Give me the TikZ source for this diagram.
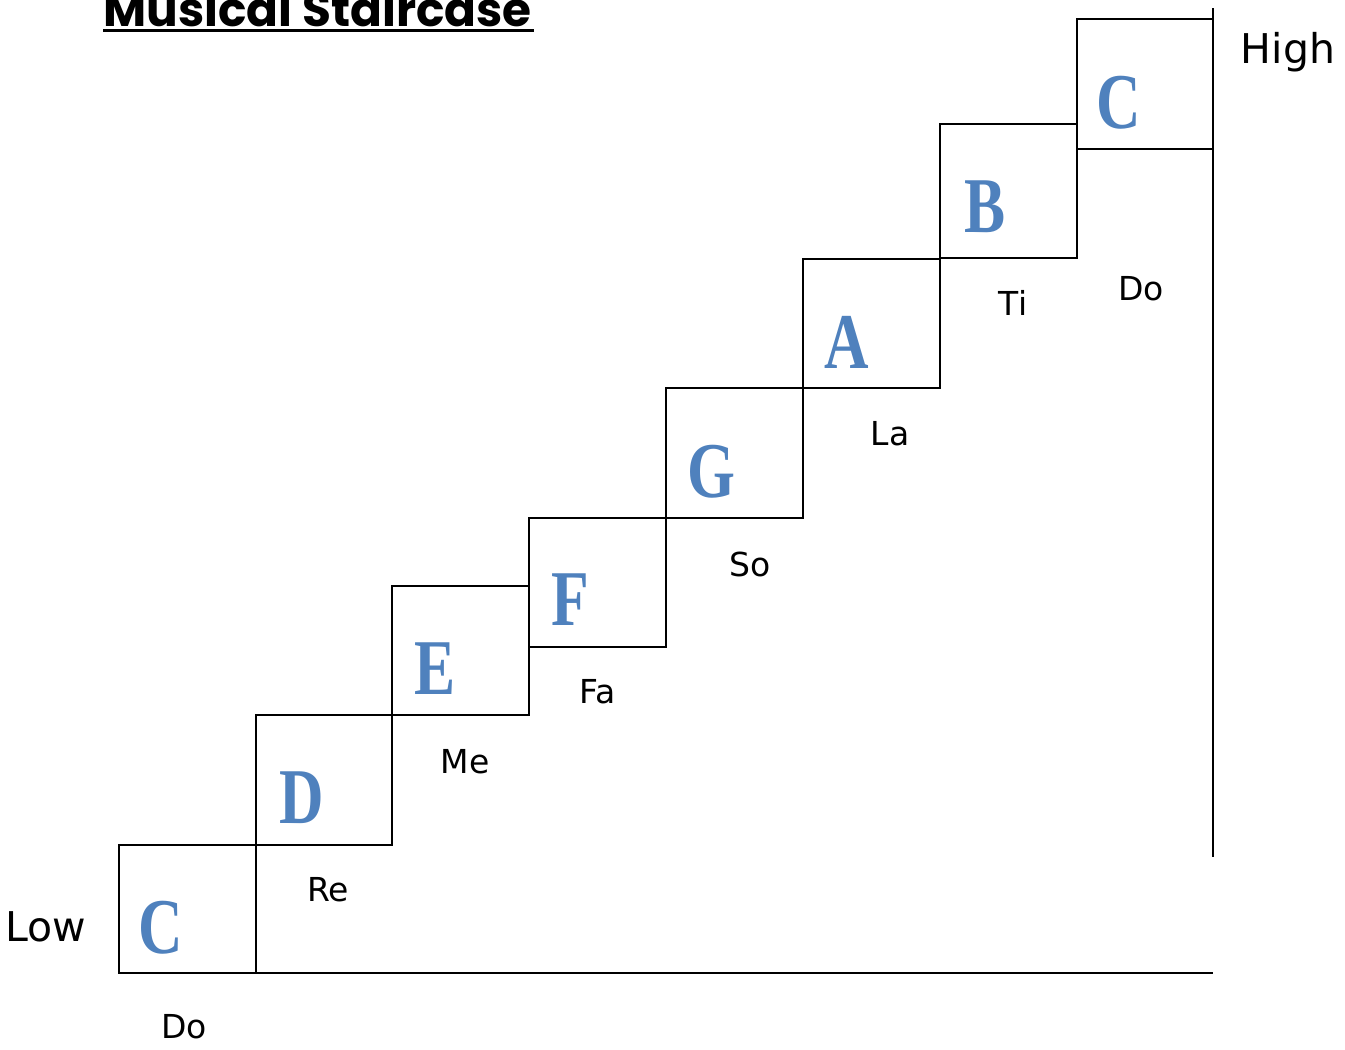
\documentclass[tikz,border=0pt]{standalone}
\usepackage{fontspec}
\setmainfont{DejaVu Sans}
\newfontfamily\titlefont{Poppins}[BoldFont={* Bold}]
\newfontfamily\notefont{Liberation Serif}[FakeStretch=0.78]
\definecolor{noteblue}{HTML}{4F81BD}
\begin{document}
\begin{tikzpicture}[x=1pt,y=-1pt,
  stepbox/.style={draw=black,line width=2pt,inner sep=0pt,outer sep=0pt,fill=none},
  note/.style={inner sep=0pt,font=\notefont\bfseries\fontsize{79}{79}\selectfont,text=noteblue},
  syll/.style={inner sep=0pt,font=\fontsize{33}{33}\selectfont},
  side/.style={inner sep=0pt,font=\fontsize{41}{41}\selectfont},
  axis/.style={line width=2pt}]
\useasboundingbox (0,0) rectangle (1345,1050);
% title
\node[inner sep=0pt,anchor=base west,font=\titlefont\bfseries\fontsize{47}{47}\selectfont] (title) at (103,26) {Musical Staircase};
\draw[line width=3.5pt] (103,30.5) -- (534,30.5);
% boxes
\node[stepbox,minimum width=137pt,minimum height=128pt] (b1) at (187.5,909) {};
\node[stepbox,minimum width=136pt,minimum height=130pt] (b2) at (324,780) {};
\node[stepbox,minimum width=137pt,minimum height=129pt] (b3) at (460.5,650.5) {};
\node[stepbox,minimum width=137pt,minimum height=129pt] (b4) at (597.5,582.5) {};
\node[stepbox,minimum width=137pt,minimum height=130pt] (b5) at (734.5,453) {};
\node[stepbox,minimum width=137pt,minimum height=129pt] (b6) at (871.5,323.5) {};
\node[stepbox,minimum width=137pt,minimum height=134pt] (b7) at (1008.5,191) {};
\node[stepbox,minimum width=136pt,minimum height=130pt] (b8) at (1145,84) {};
% axis lines
\coordinate (top) at (1213,8);
\coordinate (vend) at (1213,857);
\coordinate (hend) at (1213,973);
\draw[axis] (top) -- (vend);
\draw[axis] (b1.south east) -- (hend);
% note letters
\node[note] (n1) at (161,928) {C};
\node[note] (n2) at (302,798) {D};
\node[note] (n3) at (435,669) {E};
\node[note] (n4) at (570,600) {F};
\node[note] (n5) at (711,472) {G};
\node[note] (n6) at (847,342) {A};
\node[note] (n7) at (985,207) {B};
\node[note] (n8) at (1119,103) {C};
% syllables
\node[syll] (s1) at (184,1027) {Do};
\node[syll] (s2) at (328,890) {Re};
\node[syll] (s3) at (465,762) {Me};
\node[syll] (s4) at (598,692) {Fa};
\node[syll] (s5) at (750,564) {So};
\node[syll] (s6) at (890,434) {La};
\node[syll] (s7) at (1013,303) {Ti};
\node[syll] (s8) at (1141,289) {Do};
% sides
\node[side] (high) at (1288,52) {High};
\node[side] (low) at (46,927) {Low};
\end{tikzpicture}
\end{document}
